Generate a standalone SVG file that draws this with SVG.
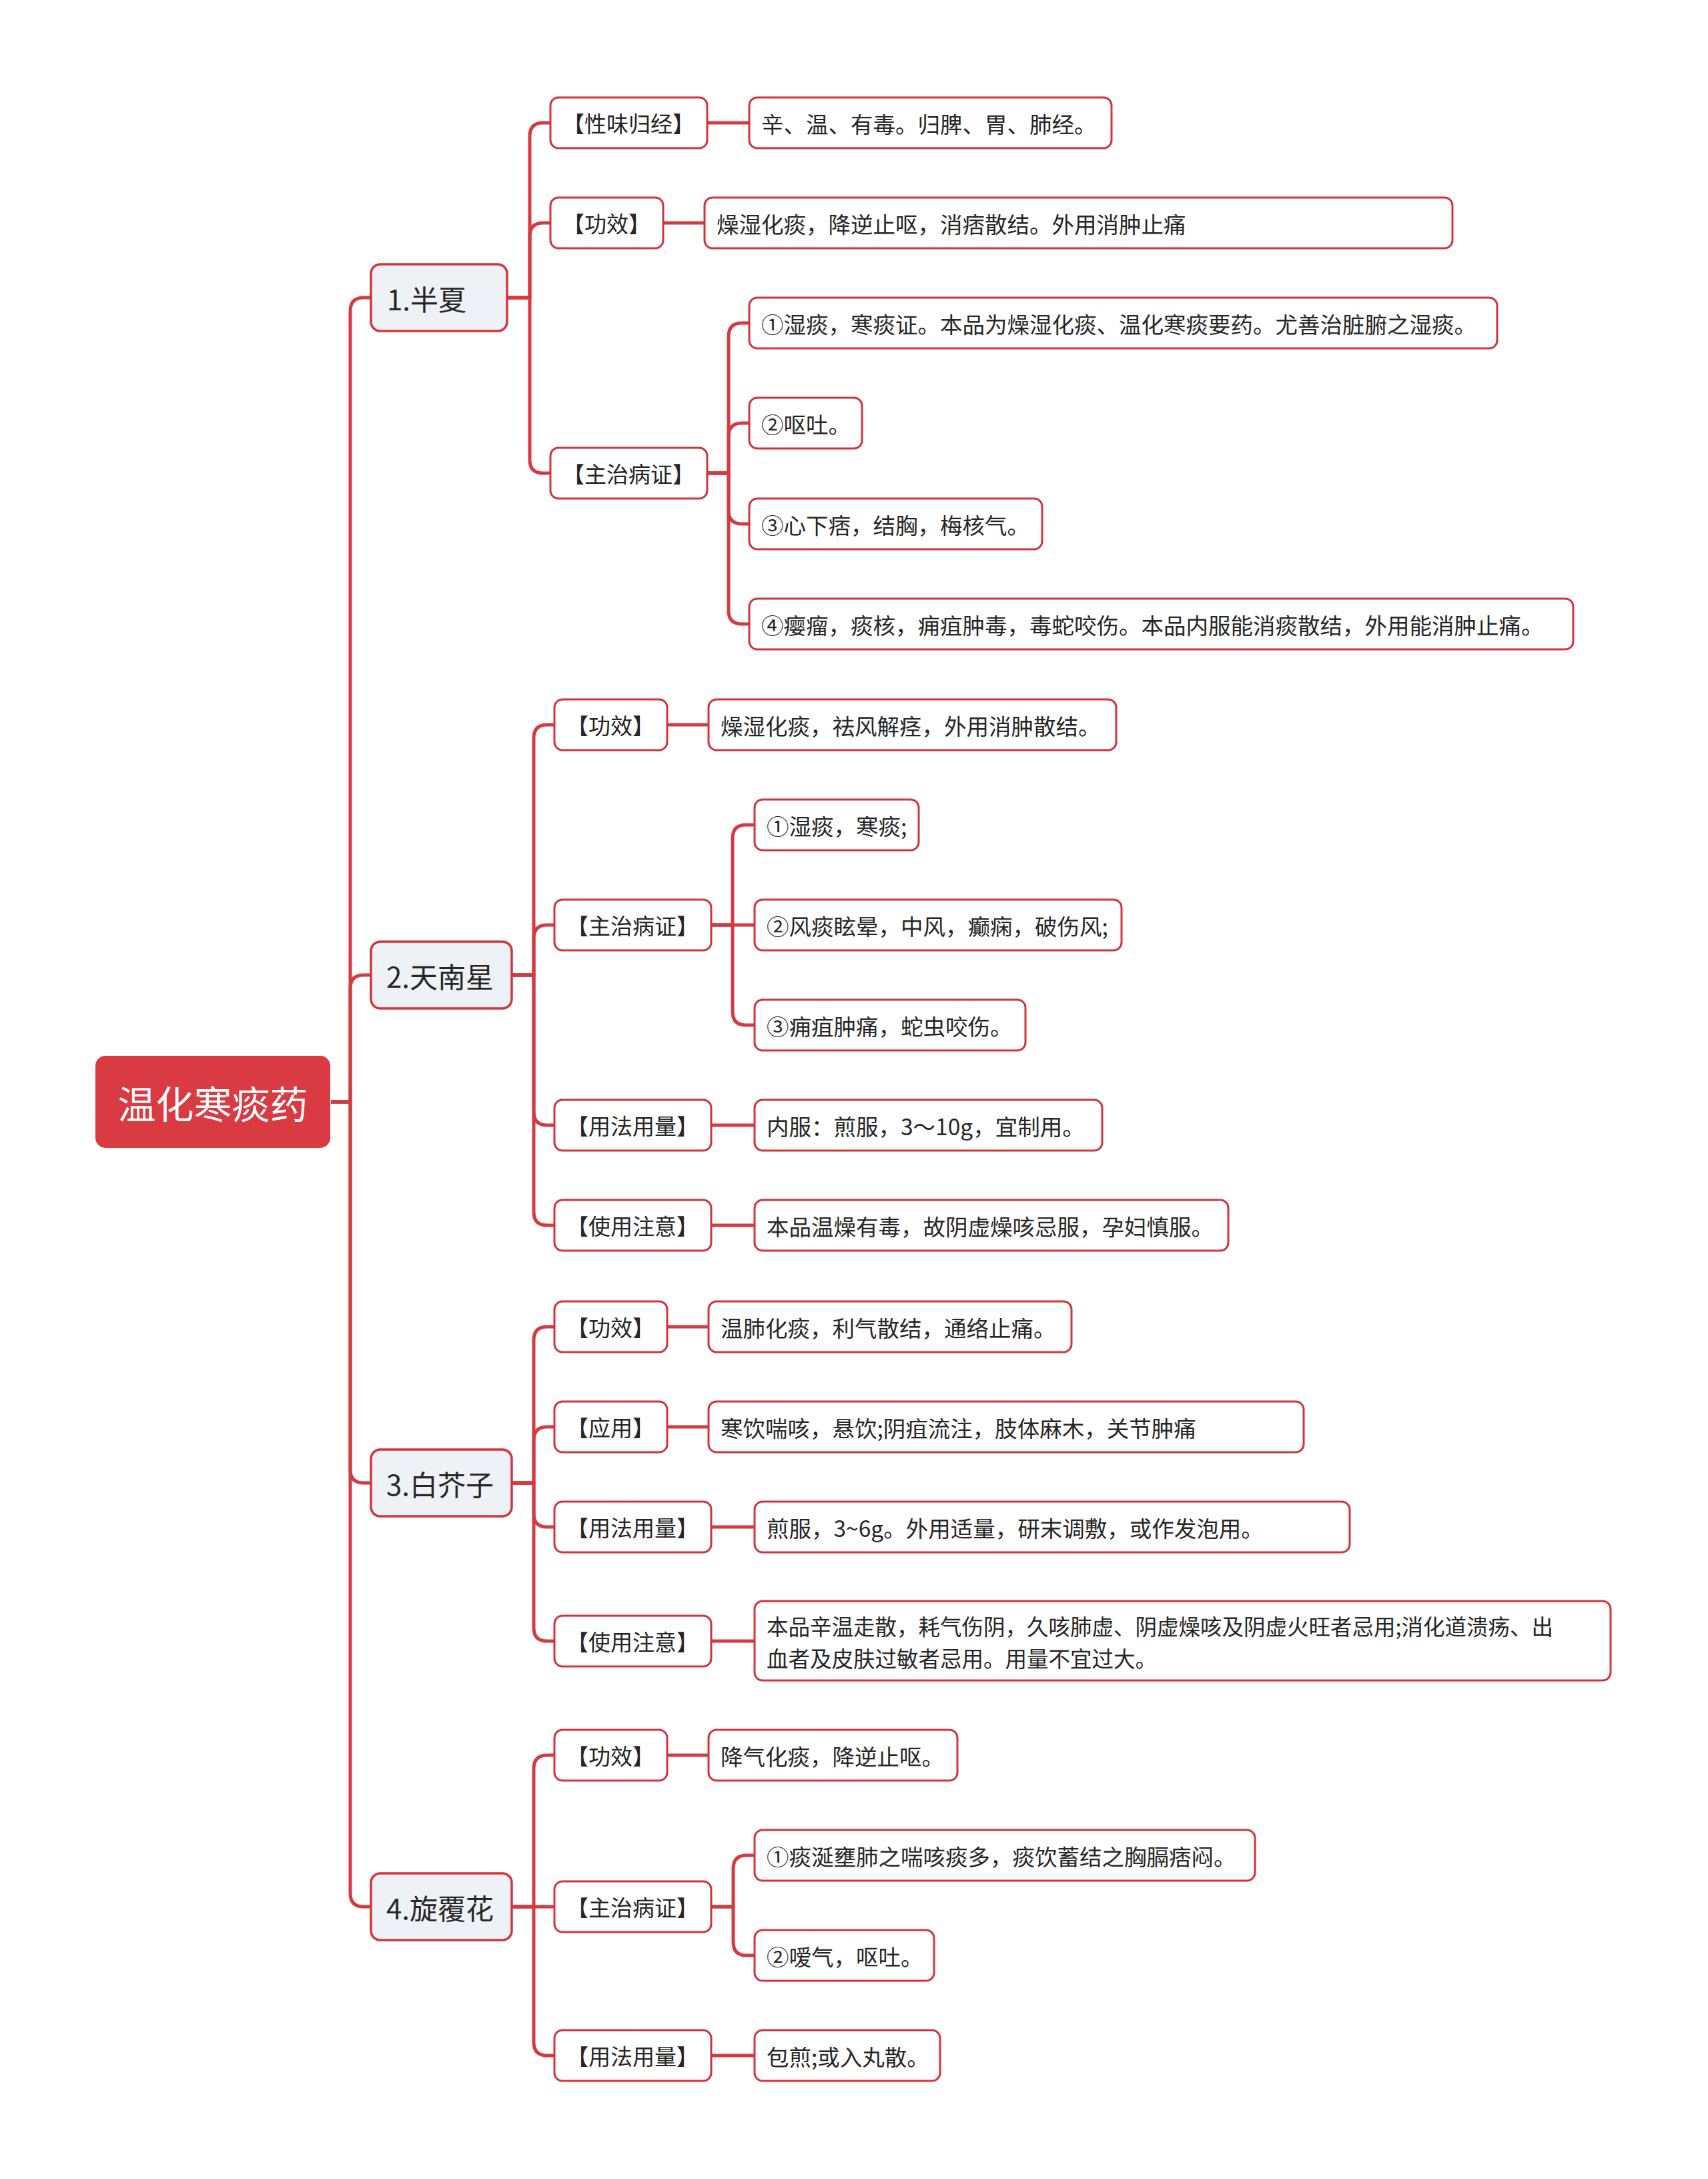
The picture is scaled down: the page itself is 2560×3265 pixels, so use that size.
<svg xmlns="http://www.w3.org/2000/svg" width="2560" height="3265" viewBox="0 0 2560 3265">
<style>
.bg{fill:#ffffff}
.root{fill:#DA3A42;stroke:#DA3A42;stroke-width:2}
.l1{fill:#EEF1F5;stroke:#D3343C;stroke-width:3.5}
.nd{fill:#ffffff;stroke:#D3343C;stroke-width:3}
.t{font-family:"Noto Sans CJK SC","Microsoft YaHei",sans-serif;fill:#262626;dominant-baseline:central}
.rt{font-family:"Noto Sans CJK SC",sans-serif;fill:#ffffff;font-size:57px;dominant-baseline:central;text-anchor:middle}
.t1{font-size:42px}
.t2{font-size:33px;text-anchor:middle}
.tl{font-size:33.5px}
.tm{font-size:32.5px}
.c{fill:none;stroke:#D63A41;stroke-width:5;stroke-linejoin:round}
</style>
<rect class="bg" x="0" y="0" width="2560" height="3265"/>
<g id="connectors">
<path class="c" d="M496 1651 H525 V466 Q525 446 545 446 H556"/>
<path class="c" d="M496 1651 H525 V1481 Q525 1461 545 1461 H556"/>
<path class="c" d="M496 1651 H525 V2202 Q525 2222 545 2222 H556"/>
<path class="c" d="M496 1651 H525 V2837 Q525 2857 545 2857 H556"/>
<path class="c" d="M760 446 H794 V204 Q794 184 814 184 H825"/>
<path class="c" d="M760 446 H794 V354 Q794 334 814 334 H825"/>
<path class="c" d="M760 446 H794 V689 Q794 709 814 709 H825"/>
<path class="c" d="M1060 184 H1123"/>
<path class="c" d="M994 334 H1056"/>
<path class="c" d="M1060 709 H1092 V504 Q1092 484 1112 484 H1123"/>
<path class="c" d="M1060 709 H1092 V654 Q1092 634 1112 634 H1123"/>
<path class="c" d="M1060 709 H1092 V765 Q1092 785 1112 785 H1123"/>
<path class="c" d="M1060 709 H1092 V915 Q1092 935 1112 935 H1123"/>
<path class="c" d="M767 1461 H800 V1106 Q800 1086 820 1086 H831"/>
<path class="c" d="M767 1461 H800 V1406 Q800 1386 820 1386 H831"/>
<path class="c" d="M767 1461 H800 V1666 Q800 1686 820 1686 H831"/>
<path class="c" d="M767 1461 H800 V1816 Q800 1836 820 1836 H831"/>
<path class="c" d="M1000 1086 H1062"/>
<path class="c" d="M1066 1386 H1098 V1256 Q1098 1236 1118 1236 H1131"/>
<path class="c" d="M1066 1386 H1131"/>
<path class="c" d="M1066 1386 H1098 V1516 Q1098 1536 1118 1536 H1131"/>
<path class="c" d="M1066 1686 H1131"/>
<path class="c" d="M1066 1836 H1131"/>
<path class="c" d="M767 2222 H800 V2008 Q800 1988 820 1988 H831"/>
<path class="c" d="M767 2222 H800 V2158 Q800 2138 820 2138 H831"/>
<path class="c" d="M767 2222 H800 V2268 Q800 2288 820 2288 H831"/>
<path class="c" d="M767 2222 H800 V2439 Q800 2459 820 2459 H831"/>
<path class="c" d="M1000 1988 H1062"/>
<path class="c" d="M1000 2138 H1062"/>
<path class="c" d="M1066 2288 H1131"/>
<path class="c" d="M1066 2459 H1131"/>
<path class="c" d="M767 2857 H800 V2650 Q800 2630 820 2630 H831"/>
<path class="c" d="M767 2857 H831"/>
<path class="c" d="M767 2857 H800 V3060 Q800 3080 820 3080 H831"/>
<path class="c" d="M1000 2630 H1062"/>
<path class="c" d="M1066 2857 H1099 V2800 Q1099 2780 1119 2780 H1131"/>
<path class="c" d="M1066 2857 H1099 V2910 Q1099 2930 1119 2930 H1131"/>
<path class="c" d="M1066 3080 H1131"/>
</g>
<g id="root"><rect class="root" x="144" y="1583" width="350" height="136" rx="14"/><text class="rt" x="319" y="1651">温化寒痰药</text></g>

<g id="n1"><rect class="l1" x="556" y="396" width="204" height="100" rx="14"/><text class="t t1" x="580" y="446">1.半夏</text></g>
<g id="n1a"><rect class="nd" x="825" y="146" width="235" height="76" rx="12"/><text class="t t2" x="942" y="184">【性味归经】</text></g>
<g id="n1a1"><rect class="nd" x="1123" y="146" width="543" height="76" rx="12"/><text class="t tl" x="1141" y="184">辛、温、有毒。归脾、胃、肺经。</text></g>
<g id="n1b"><rect class="nd" x="825" y="296" width="169" height="76" rx="12"/><text class="t t2" x="909" y="334">【功效】</text></g>
<g id="n1b1"><rect class="nd" x="1056" y="296" width="1121" height="76" rx="12"/><text class="t tl" x="1074" y="334">燥湿化痰，降逆止呕，消痞散结。外用消肿止痛</text></g>
<g id="n1c"><rect class="nd" x="825" y="671" width="235" height="76" rx="12"/><text class="t t2" x="942" y="709">【主治病证】</text></g>
<g id="n1c1"><rect class="nd" x="1123" y="446" width="1121" height="76" rx="12"/><text class="t tl" x="1141" y="484">①湿痰，寒痰证。本品为燥湿化痰、温化寒痰要药。尤善治脏腑之湿痰。</text></g>
<g id="n1c2"><rect class="nd" x="1123" y="596" width="169" height="76" rx="12"/><text class="t tl" x="1141" y="634">②呕吐。</text></g>
<g id="n1c3"><rect class="nd" x="1123" y="747" width="439" height="76" rx="12"/><text class="t tl" x="1141" y="785">③心下痞，结胸，梅核气。</text></g>
<g id="n1c4"><rect class="nd" x="1123" y="897" width="1235" height="76" rx="12"/><text class="t tl" x="1141" y="935">④瘿瘤，痰核，痈疽肿毒，毒蛇咬伤。本品内服能消痰散结，外用能消肿止痛。</text></g>

<g id="n2"><rect class="l1" x="556" y="1411" width="211" height="100" rx="14"/><text class="t t1" x="579" y="1461">2.天南星</text></g>
<g id="n2a"><rect class="nd" x="831" y="1048" width="169" height="76" rx="12"/><text class="t t2" x="915" y="1086">【功效】</text></g>
<g id="n2a1"><rect class="nd" x="1062" y="1048" width="611" height="76" rx="12"/><text class="t tl" x="1080" y="1086">燥湿化痰，祛风解痉，外用消肿散结。</text></g>
<g id="n2b"><rect class="nd" x="831" y="1348" width="235" height="76" rx="12"/><text class="t t2" x="948" y="1386">【主治病证】</text></g>
<g id="n2b1"><rect class="nd" x="1131" y="1198" width="246" height="76" rx="12"/><text class="t tl" x="1149" y="1236">①湿痰，寒痰;</text></g>
<g id="n2b2"><rect class="nd" x="1131" y="1348" width="550" height="76" rx="12"/><text class="t tl" x="1149" y="1386">②风痰眩晕，中风，癫痫，破伤风;</text></g>
<g id="n2b3"><rect class="nd" x="1131" y="1498" width="406" height="76" rx="12"/><text class="t tl" x="1149" y="1536">③痈疽肿痛，蛇虫咬伤。</text></g>
<g id="n2c"><rect class="nd" x="831" y="1648" width="235" height="76" rx="12"/><text class="t t2" x="948" y="1686">【用法用量】</text></g>
<g id="n2c1"><rect class="nd" x="1131" y="1648" width="521" height="76" rx="12"/><text class="t tl" x="1149" y="1686">内服：煎服，3～10g，宜制用。</text></g>
<g id="n2d"><rect class="nd" x="831" y="1798" width="235" height="76" rx="12"/><text class="t t2" x="948" y="1836">【使用注意】</text></g>
<g id="n2d1"><rect class="nd" x="1131" y="1798" width="710" height="76" rx="12"/><text class="t tl" x="1149" y="1836">本品温燥有毒，故阴虚燥咳忌服，孕妇慎服。</text></g>

<g id="n3"><rect class="l1" x="556" y="2172" width="211" height="100" rx="14"/><text class="t t1" x="579" y="2222">3.白芥子</text></g>
<g id="n3a"><rect class="nd" x="831" y="1950" width="169" height="76" rx="12"/><text class="t t2" x="915" y="1988">【功效】</text></g>
<g id="n3a1"><rect class="nd" x="1062" y="1950" width="544" height="76" rx="12"/><text class="t tl" x="1080" y="1988">温肺化痰，利气散结，通络止痛。</text></g>
<g id="n3b"><rect class="nd" x="831" y="2100" width="169" height="76" rx="12"/><text class="t t2" x="915" y="2138">【应用】</text></g>
<g id="n3b1"><rect class="nd" x="1062" y="2100" width="892" height="76" rx="12"/><text class="t tl" x="1080" y="2138">寒饮喘咳，悬饮;阴疽流注，肢体麻木，关节肿痛</text></g>
<g id="n3c"><rect class="nd" x="831" y="2250" width="235" height="76" rx="12"/><text class="t t2" x="948" y="2288">【用法用量】</text></g>
<g id="n3c1"><rect class="nd" x="1131" y="2250" width="892" height="76" rx="12"/><text class="t tl" x="1149" y="2288">煎服，3~6g。外用适量，研末调敷，或作发泡用。</text></g>
<g id="n3d"><rect class="nd" x="831" y="2421" width="235" height="76" rx="12"/><text class="t t2" x="948" y="2459">【使用注意】</text></g>
<g id="n3d1"><rect class="nd" x="1131" y="2399" width="1283" height="119" rx="12"/><text class="t tm" x="1149" y="2435">本品辛温走散，耗气伤阴，久咳肺虚、阴虚燥咳及阴虚火旺者忌用;消化道溃疡、出</text><text class="t tm" x="1149" y="2483">血者及皮肤过敏者忌用。用量不宜过大。</text></g>

<g id="n4"><rect class="l1" x="556" y="2807" width="211" height="100" rx="14"/><text class="t t1" x="579" y="2857">4.旋覆花</text></g>
<g id="n4a"><rect class="nd" x="831" y="2592" width="169" height="76" rx="12"/><text class="t t2" x="915" y="2630">【功效】</text></g>
<g id="n4a1"><rect class="nd" x="1062" y="2592" width="373" height="76" rx="12"/><text class="t tl" x="1080" y="2630">降气化痰，降逆止呕。</text></g>
<g id="n4b"><rect class="nd" x="831" y="2819" width="235" height="76" rx="12"/><text class="t t2" x="948" y="2857">【主治病证】</text></g>
<g id="n4b1"><rect class="nd" x="1131" y="2742" width="750" height="76" rx="12"/><text class="t tl" x="1149" y="2780">①痰涎壅肺之喘咳痰多，痰饮蓄结之胸膈痞闷。</text></g>
<g id="n4b2"><rect class="nd" x="1131" y="2892" width="269" height="76" rx="12"/><text class="t tl" x="1149" y="2930">②嗳气，呕吐。</text></g>
<g id="n4c"><rect class="nd" x="831" y="3042" width="235" height="76" rx="12"/><text class="t t2" x="948" y="3080">【用法用量】</text></g>
<g id="n4c1"><rect class="nd" x="1131" y="3042" width="278" height="76" rx="12"/><text class="t tl" x="1149" y="3080">包煎;或入丸散。</text></g>
</svg>
